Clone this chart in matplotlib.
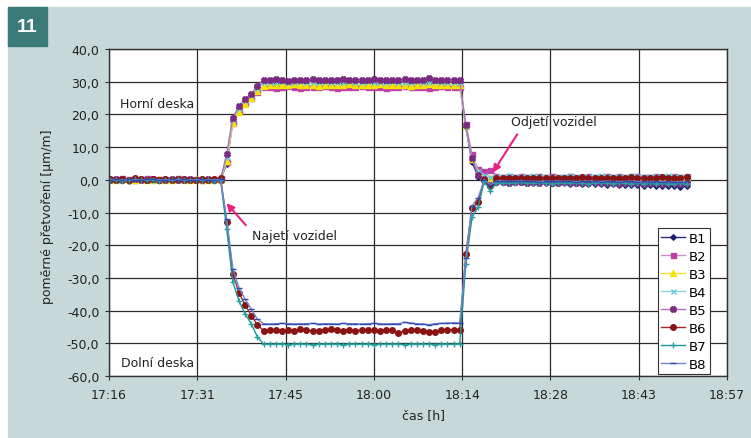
import matplotlib.pyplot as plt
import numpy as np
from matplotlib.patches import Rectangle
from matplotlib.ticker import FuncFormatter

# logger samples once per minute, first sample at 17:17
t_start = 17 * 60 + 17   # minutes after midnight
n_samples = 95

# strain readings [um/m], one value per minute
b1 = [0.1, -0.2, 0.0, -0.3, 0.1, 0.2, -0.1, 0.0, -0.2, 0.1, -0.1, 0.0, -0.2, -0.1, 0.0, 0.1, -0.2, 0.0, 0.2,
      4.8, 18.0, 22.0, 24.3, 25.8, 28.3,
      29.9, 30.1, 29.8, 30.0, 29.9, 30.2, 29.8, 30.0, 30.1, 29.9, 30.0, 29.8, 30.1, 30.0, 29.9, 30.2, 30.0,
      29.8, 30.0, 30.1, 29.9, 30.0, 29.8, 30.1, 30.0, 29.9, 30.2, 30.0, 29.8, 30.0, 30.1, 29.9, 29.8,
      16.0, 5.5, 1.0, -0.5, -2.0, -0.4, -0.5, -0.7, -0.5, -0.8, -0.6, -0.9, -0.8, -1.0, -0.8, -1.1, -1.0,
      -1.2, -1.1, -1.3, -1.2, -1.4, -1.3, -1.5, -1.4, -1.6, -1.5, -1.7, -1.6, -1.8, -1.7, -1.9, -1.8, -2.0,
      -1.9, -2.1, -2.0]
b2 = [0.3, 0.1, 0.4, 0.2, 0.0, 0.3, 0.5, 0.2, 0.1, 0.3, 0.2, 0.4, 0.1, 0.3, 0.2, 0.0, 0.3, 0.2, 0.4,
      5.5, 17.5, 21.0, 23.5, 25.0, 27.0,
      28.3, 28.5, 28.2, 28.4, 28.6, 28.3, 28.2, 28.5, 28.4, 28.3, 28.6, 28.4, 28.2, 28.5, 28.3, 28.4, 28.6,
      28.3, 28.5, 28.4, 28.2, 28.5, 28.3, 28.6, 28.4, 28.3, 28.5, 28.2, 28.4, 28.6, 28.3, 28.5, 28.4,
      17.2, 7.8, 3.3, 2.8, 3.1, 1.2, 1.0, 1.1, 0.9, 1.2, 1.0, 0.8, 1.1, 1.0, 1.2, 0.9, 1.0,
      1.1, 0.8, 1.0, 1.2, 1.0, 0.9, 1.1, 1.0, 1.2, 0.9, 1.0, 1.1, 0.9, 1.0, 1.2, 1.0, 0.9,
      1.1, 1.0, 1.2]
b3 = [0.0, -0.2, 0.1, 0.0, -0.1, 0.2, 0.0, -0.2, 0.1, -0.1, 0.0, 0.1, -0.2, 0.0, 0.1, -0.1, 0.0, 0.2, -0.1,
      5.8, 17.4, 20.7, 23.2, 24.9, 27.2,
      28.8, 29.0, 29.1, 28.9, 29.0, 29.2, 28.9, 29.0, 29.1, 28.8, 29.0, 29.1, 29.0, 28.9, 29.2, 29.0, 29.1,
      28.9, 29.0, 29.2, 29.0, 28.9, 29.1, 29.0, 28.8, 29.1, 29.0, 29.2, 28.9, 29.0, 29.1, 29.0, 28.9,
      16.3, 6.5, 2.5, 1.0, 0.4, 0.6, 0.5, 0.7, 0.6, 0.4, 0.6, 0.7, 0.5, 0.6, 0.4, 0.6, 0.5,
      0.7, 0.6, 0.5, 0.4, 0.6, 0.7, 0.5, 0.6, 0.4, 0.5, 0.6, 0.7, 0.5, 0.6, 0.4, 0.6, 0.5,
      0.7, 0.6, 0.5]
b4 = [0.2, 0.0, 0.3, 0.1, 0.2, 0.4, 0.1, 0.0, 0.2, 0.3, 0.1, 0.2, 0.0, 0.3, 0.2, 0.1, 0.3, 0.2, 0.1,
      7.0, 18.5, 22.0, 24.5, 26.0, 28.2,
      29.8, 30.0, 29.9, 30.1, 29.8, 30.0, 30.2, 29.9, 29.8, 30.0, 30.1, 29.9, 30.0, 29.8, 30.1, 29.9, 30.0,
      30.2, 29.9, 29.8, 30.0, 30.1, 29.9, 30.0, 29.8, 30.1, 30.0, 29.9, 30.1, 29.8, 30.0, 29.9, 30.0,
      16.5, 6.8, 2.8, 1.5, 0.8, 1.3, 1.2, 1.4, 1.3, 1.1, 1.2, 1.4, 1.3, 1.2, 1.0, 1.3, 1.2,
      1.4, 1.1, 1.3, 1.2, 1.3, 1.4, 1.2, 1.1, 1.3, 1.2, 1.4, 1.3, 1.2, 1.1, 1.3, 1.2, 1.4,
      1.3, 1.2, 1.1]
b5 = [-0.1, 0.1, -0.2, 0.0, 0.2, -0.1, 0.0, 0.1, -0.2, 0.0, 0.1, -0.1, 0.0, 0.2, -0.1, 0.0, 0.1, -0.2, 0.0,
      8.0, 19.0, 22.5, 24.7, 26.2, 28.7,
      30.6, 30.4, 30.7, 30.5, 30.3, 30.6, 30.5, 30.4, 30.7, 30.5, 30.6, 30.4, 30.5, 30.7, 30.6, 30.4, 30.5,
      30.6, 30.8, 30.5, 30.4, 30.6, 30.5, 30.7, 30.5, 30.4, 30.6, 31.0, 30.5, 30.4, 30.6, 30.5, 30.4,
      16.8, 6.8, 1.5, 0.3, -1.5, -0.8, -0.7, -0.9, -0.8, -0.6, -0.9, -0.8, -1.0, -0.8, -0.9, -1.0, -0.8,
      -0.9, -1.1, -0.9, -1.0, -0.8, -1.1, -1.0, -0.9, -1.2, -1.0, -1.1, -0.9, -1.2, -1.0, -1.1, -1.3,
      -1.1, -1.0, -1.2, -1.1]
b6 = [0.2, -0.1, 0.3, 0.0, 0.4, 0.1, -0.2, 0.3, 0.0, 0.2, -0.1, 0.1, 0.3, -0.2, 0.0, 0.2, -0.1, 0.3, 0.4,
      -12.8, -28.8, -34.6, -38.2, -41.5, -44.4,
      -46.1, -46.0, -45.9, -46.2, -45.8, -46.1, -45.7, -46.0, -46.2, -46.1, -45.9, -45.7, -46.0, -46.1,
      -45.9, -46.2, -45.8, -46.0, -45.9, -46.1, -45.8, -46.0, -46.8, -46.2, -46.0, -45.9, -46.1, -46.4,
      -46.5, -45.9, -45.8, -46.0, -45.9,
      -22.7, -8.7, -6.7, 0.0, -2.0, 0.5, 0.6, 0.4, 0.6, 0.5, 0.7, 0.6, 0.5, 0.6, 0.4, 0.6, 0.7,
      0.5, 0.6, 0.8, 0.6, 0.5, 0.7, 0.6, 0.5, 0.7, 0.6, 0.8, 0.6, 0.7, 0.5, 0.6, 0.8, 0.7,
      0.6, 0.7, 0.8]
b7 = [-0.2, 0.0, -0.3, -0.1, 0.1, -0.2, 0.0, -0.1, -0.3, 0.0, -0.2, 0.1, -0.1, 0.0, -0.2, -0.1, 0.0, -0.3, -0.1,
      -15.0, -31.3, -37.0, -41.0, -44.0, -48.0,
      -50.2, -50.3, -50.3, -50.2, -50.4, -50.3, -50.2, -50.3, -50.4, -50.3, -50.2, -50.3, -50.3, -50.4,
      -50.2, -50.3, -50.3, -50.2, -50.4, -50.3, -50.3, -50.2, -50.3, -50.4, -50.3, -50.2, -50.3, -50.3,
      -50.4, -50.2, -50.3, -50.3, -50.2,
      -25.8, -11.5, -8.4, -0.5, -3.3, -1.0, -0.9, -1.1, -1.0, -0.8, -1.0, -1.1, -0.9, -1.0, -1.2, -1.0,
      -1.1, -0.9, -1.0, -1.1, -1.2, -1.0, -1.1, -1.0, -1.2, -1.1, -1.0, -1.2, -1.1, -1.3, -1.1, -1.2,
      -1.1, -1.3, -1.2, -1.1, -1.3]
b8 = [0.0, 0.2, -0.1, 0.1, 0.0, -0.2, 0.1, 0.2, 0.0, -0.1, 0.1, 0.0, 0.2, -0.1, 0.0, 0.1, -0.1, 0.0, 0.1,
      -12.0, -27.3, -33.0, -36.5, -39.5, -42.6,
      -44.0, -44.1, -44.0, -43.9, -44.0, -44.1, -44.0, -44.0, -43.9, -44.1, -44.0, -44.0, -44.1, -43.9,
      -44.0, -44.0, -44.1, -44.0, -43.9, -44.0, -44.1, -44.0, -44.0, -43.6, -43.8, -44.0, -44.1, -44.3,
      -44.0, -43.9, -43.8, -43.7, -43.8,
      -24.0, -8.0, -5.5, 0.0, -1.5, -0.4, -0.3, -0.5, -0.4, -0.3, -0.5, -0.4, -0.6, -0.4, -0.5, -0.3,
      -0.5, -0.4, -0.6, -0.5, -0.4, -0.5, -0.6, -0.4, -0.5, -0.6, -0.5, -0.4, -0.6, -0.5, -0.7, -0.5,
      -0.6, -0.5, -0.7, -0.6, -0.5]

names = ["B1", "B2", "B3", "B4", "B5", "B6", "B7", "B8"]
values = [b1, b2, b3, b4, b5, b6, b7, b8]

x_ticks = [0.72, 0.73, 0.74, 0.75, 0.76, 0.77, 0.78, 0.79]   # fraction of a day
x_labels = ["17:16", "17:31", "17:45", "18:00", "18:14", "18:28", "18:43", "18:57"]
y_ticks = [-60, -50, -40, -30, -20, -10, 0, 10, 20, 30, 40]

# (line colour, marker, marker colour, marker size)
styles = {
    "B1": ("#2b2b84", "D", "#1f1f70", 2.8),
    "B2": ("#d58ccc", "s", "#c03ea8", 3.6),
    "B3": ("#eee23a", "^", "#f2e400", 4.0),
    "B4": ("#86d6e0", "x", "#5cc8dc", 3.6),
    "B5": ("#b070b8", "X", "#7a2a80", 4.0),
    "B6": ("#a02a2a", "o", "#8a1414", 4.0),
    "B7": ("#1f9494", "+", "#2aa0a0", 4.5),
    "B8": ("#7086d0", "_", "#2e44b0", 4.0),
}

teal_bg = "#c6d9d8"
teal_box = "#3a7a79"
pink = "#ea1f80"

minutes = t_start + np.arange(n_samples)
t_day = minutes / 1440.0

fig = plt.figure(figsize=(7.51, 4.39), dpi=100)
fig.patch.set_facecolor("white")
fig.patches.append(Rectangle((8 / 751, 0), 1 - 8 / 751, 1 - 8 / 439,
                             transform=fig.transFigure, color=teal_bg, zorder=-2))
fig.patches.append(Rectangle((8 / 751, 1 - 47 / 439), 39 / 751, 39 / 439,
                             transform=fig.transFigure, color=teal_box, zorder=-1))
fig.text(27.5 / 751, 1 - 28 / 439, "11", color="white", fontsize=14, fontweight="bold",
         family="Liberation Sans", ha="center", va="center")

ax = fig.add_axes([109 / 751, 62 / 439, 618 / 751, 327 / 439])
ax.set_facecolor("white")

for name, vals in zip(names, values):
    lc, mk, mc, ms = styles[name]
    ax.plot(t_day, vals, color=lc, lw=1.0, marker=mk, markersize=ms,
            markerfacecolor=mc, markeredgecolor=mc, markeredgewidth=1.0, label=name)

ax.set_xlim(0.72, 0.79)
ax.set_ylim(-60, 40)
ax.set_xticks(x_ticks)
ax.set_xticklabels(x_labels)
ax.set_yticks(y_ticks)
ax.yaxis.set_major_formatter(FuncFormatter(lambda v, p: f"{v:.1f}".replace(".", ",")))
ax.grid(True, color="#2a2a2a", lw=0.9)
ax.set_axisbelow(True)
for sp in ax.spines.values():
    sp.set_color("#333333")
    sp.set_linewidth(1.0)
ax.tick_params(direction="out", length=3, width=0.8, color="#333333",
               labelsize=9, labelcolor="#222222", pad=4)
ax.tick_params(axis="x", pad=6)

ax.text(0.72125, 23.2, "Horní deska", fontsize=9, ha="left", va="center", color="#222222")
ax.text(0.72137, -56.0, "Dolní deska", fontsize=9, ha="left", va="center", color="#222222")
ax.text(0.7362, -17.0, "Najetí vozidel", fontsize=9, ha="left", va="center", color="#222222")
ax.text(0.7655, 17.7, "Odjetí vozidel", fontsize=9, ha="left", va="center", color="#222222")
ax.annotate("", xy=(0.7331, -6.5), xytext=(0.7357, -14.5),
            arrowprops=dict(arrowstyle="-|>", color=pink, lw=1.5, mutation_scale=11))
ax.annotate("", xy=(0.7633, 1.5), xytext=(0.7664, 14.6),
            arrowprops=dict(arrowstyle="-|>", color=pink, lw=1.5, mutation_scale=11))

fig.text(48 / 751, 1 - 217 / 439, "poměrné přetvoření [µm/m]", rotation=90,
         fontsize=9, ha="center", va="center", color="#222222")
fig.text(423 / 751, 1 - 416 / 439, "čas [h]", fontsize=9, ha="center", va="center",
         color="#222222")

leg = ax.legend(loc="lower left", bbox_to_anchor=(0.888, 0.006), fontsize=9.5,
                frameon=True, fancybox=False, edgecolor="#333333", framealpha=1,
                handlelength=1.8, handletextpad=0.3, labelspacing=0.38,
                borderpad=0.25, borderaxespad=0)
leg.get_frame().set_linewidth(0.8)

fig.savefig("out.png", dpi=100, facecolor=fig.get_facecolor())
